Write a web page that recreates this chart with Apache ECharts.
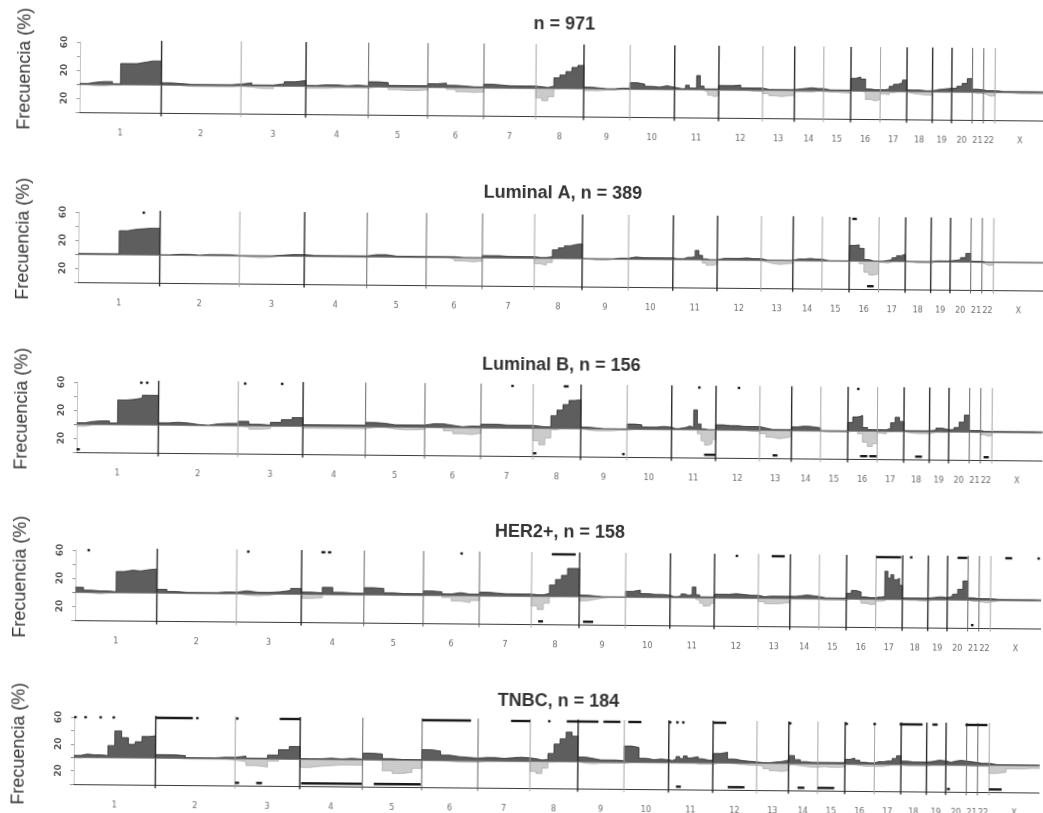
<!DOCTYPE html>
<html><head><meta charset="utf-8">
<script src="https://cdn.jsdelivr.net/npm/echarts@6/dist/echarts.min.js"></script>
<style>
html,body{margin:0;padding:0;background:#fff;overflow:hidden}
#c{width:1043px;height:813px;transform:rotate(0.5deg);transform-origin:50% 50%;background:#fff}
</style></head>
<body><div id="c"></div>
<script>
// ---------------- DATA ----------------
const chromNames = ['1','2','3','4','5','6','7','8','9','10','11','12','13','14','15','16','17','18','19','20','21','22','X'];
const chromLen = [249,243,198,191,181,171,159,146,141,136,135,134,97,89,83,90,81,78,59,63,34,35,155]; // Mb shown
const panelTitles = ['n = 971','Luminal A, n = 389','Luminal B, n = 156','HER2+, n = 158','TNBC, n = 184'];
const yAxisName = 'Frecuencia (%)';
const yTickValues = [60, 20, -20];
const yTickText = {'60':'60','20':'20','-20':'20'};

// gain / loss frequency (%) per chromosome, evenly spaced bins along each chromosome
const gainAll = [[1,3,4,4,1,30,30,32,34,34],[3,2,1,1,1,1,1,2],[4,1,1,3,6,8],[1,2,2,1,2,1],[7,6,2,2,2,2],[5,6,3,2,1,1],[5,4,3,3,3,3],[2,1,3,15,19,24,30,33],[2,1,0,0,1,1],[9,7,4,3,5,3],[2,1,1,6,2,2,20,5,1,1,1,1],[6,6,7,3,3,3],[1,1,1,1,1],[2,3,4,3,3],[1,1,1,1],[18,20,17,3,2,2],[2,3,7,10,12,16],[2,2,1,1],[3,4,5],[5,8,12,19],[4,3],[2,2,2],[1,1,1,1,1,1]];
const lossAll = [[1,2,2,1,1,0,0,0,0,0],[0,1,2,2,2,2,2,1],[2,4,4,1,0,0],[3,3,2,2,2,2],[0,1,4,5,5,4],[0,0,3,6,7,6],[1,1,1,1,1,1],[14,18,12,1,0,0,0,0],[3,3,2,2,1,1],[1,1,1,1,1,1],[0,0,0,0,0,0,0,1,3,8,10,8],[1,1,1,1,2,2],[5,8,9,8,7],[2,2,2,1,1],[2,2,3,3],[0,0,2,12,14,12],[4,5,2,1,1,1],[3,4,5,5],[1,1,1],[1,1,1,1],[2,2],[4,6,5],[1,1,2,2,2,2]];

const gainLumA = [[1,1,1,1,1,34,36,37,38,38],[0,1,1,0,1,1,1,0],[0,0,0,1,2,2],[1,1,1,1,1,1],[3,3,1,1,1,1],[1,1,1,0,0,0],[3,3,2,2,2,2],[1,1,2,12,15,18,20,21],[0,0,0,0,1,1],[3,2,2,2,2,2],[1,1,1,3,3,4,13,6,1,0,0,0],[2,2,2,3,2,2],[0,0,0,0,0],[2,2,3,2,2],[0,0,0,0],[22,23,18,2,0,0],[0,1,2,5,8,10],[0,0,0,0],[1,1,1],[2,3,6,12],[1,1],[0,0,0],[0,0,0,0,0,0]];
const lossLumA = [[0,0,0,0,0,0,0,0,0,0],[0,0,0,1,1,1,1,1],[2,3,2,0,0,0],[1,1,1,1,1,1],[0,0,1,1,1,1],[0,0,2,5,6,5],[0,0,0,0,0,0],[8,10,6,0,0,0,0,0],[1,2,2,1,1,1],[1,1,1,1,1,1],[0,0,0,0,0,0,0,2,5,8,8,6],[1,1,1,1,1,1],[3,5,6,5,4],[1,1,1,1,1],[1,1,1,1],[0,0,4,16,20,18],[2,3,1,0,0,0],[1,2,2,2],[0,0,0],[0,0,0,0],[1,1],[3,5,4],[1,1,1,1,1,1]];

const gainLumB = [[2,4,5,5,2,35,36,38,42,42],[3,4,3,1,0,2,3,3],[6,2,1,5,9,12],[2,2,2,2,2,2],[6,5,3,3,3,3],[5,5,3,1,2,2],[5,5,4,4,4,4],[3,2,2,18,26,34,40,41],[2,1,0,0,0,0],[7,6,3,3,4,3],[1,1,2,3,5,3,28,8,1,0,0,0],[7,6,6,5,5,5],[3,1,1,1,1],[5,6,6,5,4],[0,0,0,0],[12,20,22,5,2,2],[2,2,4,12,20,14],[1,1,1,1],[2,5,3],[3,6,14,24],[2,2],[1,1,1],[1,1,1,1,1,1]];
const lossLumB = [[3,1,0,0,0,0,0,0,0,0],[0,0,1,1,1,1,1,1],[2,5,4,1,0,0],[3,3,3,3,3,3],[1,1,3,4,4,3],[0,1,5,9,10,8],[1,1,1,1,1,1],[18,24,14,2,0,0,0,0],[2,3,3,3,2,2],[1,1,1,1,1,1],[0,0,0,0,0,0,0,6,16,22,20,14],[1,1,1,1,2,2],[5,10,12,11,9],[1,1,1,1,1],[2,2,2,2],[0,0,4,16,22,18],[3,4,1,0,0,0],[2,3,3,3],[1,1,1],[0,0,0,0],[1,1],[4,6,5],[1,1,1,1,1,1]];

const gainHer2 = [[7,3,2,2,1,30,32,31,33,34],[5,2,1,1,1,1,2,2],[4,2,2,3,5,8],[3,2,10,3,2,2],[10,9,3,2,2,2],[6,5,2,4,2,2],[5,4,3,3,3,3],[2,2,4,16,24,30,40,40],[2,1,0,0,0,0],[8,10,5,4,4,3],[1,1,2,5,3,4,15,4,1,1,1,1],[5,5,6,5,4,4],[2,3,3,3,3],[3,4,5,4,3],[1,1,1,1],[8,12,10,3,2,2],[3,3,4,40,30,35,28,30,20],[2,2,2,2],[3,4,3],[5,8,15,27],[3,2],[2,2,2],[1,1,1,1,1,1]];
const lossHer2 = [[0,1,2,1,0,0,0,0,0,0],[0,0,1,1,1,1,1,0],[2,3,2,0,0,0],[6,5,1,1,1,1],[0,0,1,1,1,1],[0,0,3,8,10,7],[1,1,1,1,1,1],[14,19,10,1,0,0,0,0],[6,4,2,1,1,1],[1,1,1,1,1,1],[0,0,0,0,0,0,0,3,8,12,11,8],[1,1,1,1,1,1],[5,8,8,7,6],[1,1,1,1,1],[2,2,2,2],[0,0,2,6,8,7],[3,3,2,0,0,0,0,0,0],[1,1,2,2],[0,0,0],[0,0,0,0],[2,2],[3,4,3],[1,1,1,1,1,1]];

const gainTnbc = [[3,5,4,4,3,18,40,30,20,24,32,33],[5,5,4,1,1,1,2,2],[4,1,1,6,14,19],[1,1,2,1,2,1],[10,9,2,1,1,1],[16,14,8,6,5,4],[5,5,4,5,6,5],[4,2,3,12,26,34,44,38],[7,5,3,3,3,2],[24,22,6,4,5,4],[3,5,9,6,10,7,8,9,6,5,4,4],[14,16,6,4,3,2],[1,1,2,3,5],[12,6,3,2,2],[2,2,2,2],[7,9,6,3,2,2],[4,4,5,5,9,13],[5,4,4,4],[5,7,6],[4,6,7,6],[5,4],[3,3,3],[1,1,1,1,1,1]];
const lossTnbc = [[1,0,0,0,0,0,0,0,0,0,0,0],[0,0,1,1,1,1,1,2],[4,10,12,3,0,0],[12,10,9,8,8,8],[0,1,16,20,18,12],[0,0,1,2,2,2],[1,1,1,1,1,1],[15,18,10,1,0,0,0,0],[2,3,2,2,2,2],[1,1,1,1,1,1],[1,1,1,1,1,1,1,2,2,2,2,2],[0,0,1,2,3,3],[4,8,11,12,10],[2,3,4,5,5],[4,5,5,4],[1,1,2,3,3,3],[3,3,2,1,1,1],[2,2,2,2],[1,1,1],[1,1,1,1],[2,2],[2,2,2],[12,10,5,5,4,4]];

// significance bars: [chromosome, start Mb, end Mb]
const sigGainAll = [];
const sigLossAll = [];
const sigGainLumA = [['1',195,199],['16',8,22]];
const sigLossLumA = [['16',55,75]];
const sigGainLumB = [['1',192,200],['1',210,216],['3',17,21],['3',130,136],['7',92,96],['8',93,108],['11',80,84],['12',66,70],['16',27,31]];
const sigLossLumB = [['1',0,10],['8',1,11],['9',127,131],['11',100,135],['13',40,55],['16',38,60],['16',66,88],['18',35,56],['22',10,26]];
const sigGainHer2 = [['1',36,40],['3',31,35],['4',60,72],['4',80,90],['6',112,116],['8',61,134],['12',64,68],['13',40,80],['17',0,76],['18',22,26],['20',30,60],['X',44,65],['X',142,148]];
const sigLossHer2 = [['8',21,36],['9',12,43],['21',10,14]];
const sigGainTnbc = [['1',0,3],['1',31,35],['1',77,81],['1',117,121],['2',0,113],['2',123,127],['3',2,6],['3',135,198],['6',0,149],['7',100,159],['8',54,58],['8',111,146],['9',0,62],['9',77,129],['10',12,52],['11',0,4],['11',22,26],['11',40,44],['12',0,40],['14',0,8],['16',0,8],['16',86,90],['17',76,81],['18',0,65],['19',17,33],['20',59,63],['21',0,34],['22',0,29]];
const sigLossTnbc = [['3',0,13],['3',65,83],['4',4,189],['5',35,178],['11',23,38],['12',46,97],['14',28,49],['15',0,51],['20',4,13],['X',0,39]];

// ---------------- BUILD ----------------
const panels = [
  {gain:gainAll,  loss:lossAll,  sg:sigGainAll,  sl:sigLossAll},
  {gain:gainLumA, loss:lossLumA, sg:sigGainLumA, sl:sigLossLumA},
  {gain:gainLumB, loss:lossLumB, sg:sigGainLumB, sl:sigLossLumB},
  {gain:gainHer2, loss:lossHer2, sg:sigGainHer2, sl:sigLossHer2},
  {gain:gainTnbc, loss:lossTnbc, sg:sigGainTnbc, sl:sigLossTnbc}
];
const offsets = []; let acc = 0;
chromLen.forEach(l => { offsets.push(acc); acc += l; });
const genomeEnd = acc;
const centers = chromLen.map((l, i) => offsets[i] + l / 2);
const bounds = offsets.slice(1, 23).map((b, i) => [b, i + 1]);

function profile(bins, sign) {
  const pts = [];
  bins.forEach((vals, c) => {
    const w = chromLen[c] / vals.length;
    vals.forEach((v, i) => {
      const x0 = offsets[c] + i * w;
      pts.push([x0, sign * v], [x0 + w, sign * v]);
    });
  });
  return pts;
}
function sigBars(list, kind) {
  return list.map(([n, s, e]) => { const o = offsets[chromNames.indexOf(n)]; return [o + s, o + e, kind]; });
}

const tops = [46, 216, 386, 554, 721];
const titleCenters = [25, 194, 366, 533, 702];
const PH = 70;
const XMIN = -9;
const darkSep = [1,3,8,10,11,13,15,17,18,19];
const midSep = [4,5,6,20,21];
const FONT = 'Liberation Sans, Arial, sans-serif';

const grid = [], xAxis = [], yAxis = [], series = [], title = [], graphic = [];
panels.forEach((p, k) => {
  grid.push({left: 74, top: tops[k], width: 972, height: PH});
  title.push({text: panelTitles[k], left: 561, top: titleCenters[k] - 10, textAlign: 'center', padding: 0,
    textStyle: {fontSize: 18, fontWeight: 'bold', color: '#333', fontFamily: FONT}});
  graphic.push({type: 'text', x: 22, y: tops[k] + 27, rotation: Math.PI / 2, silent: true,
    style: {text: yAxisName, fontSize: 18, fill: '#333', align: 'center', verticalAlign: 'middle', textAlign: 'center', textVerticalAlign: 'middle',
      fontFamily: FONT}});
  xAxis.push({gridIndex: k, type: 'value', min: XMIN, max: genomeEnd,
    axisLine: {onZero: false, lineStyle: {color: '#3a3a3a', width: 1.2}},
    axisTick: {show: false}, splitLine: {show: false},
    axisLabel: {customValues: centers, margin: 17, fontSize: 8, color: '#6a6a6a', fontFamily: 'DejaVu Sans, sans-serif',
      formatter: v => { const i = centers.findIndex(c => Math.abs(c - v) < 0.01); return i >= 0 ? chromNames[i] : ''; }}});
  yAxis.push({gridIndex: k, type: 'value', min: -40, max: 60, interval: 20,
    axisLine: {show: true, lineStyle: {color: '#c4c4c4', width: 1}},
    axisTick: {show: true, length: 3, lineStyle: {color: '#999'}},
    splitLine: {show: false}, axisLabel: {show: false}});
  series.push({type: 'line', xAxisIndex: k, yAxisIndex: k, data: profile(p.loss, -1), symbol: 'none', silent: true, animation: false, z: 2,
    lineStyle: {color: '#acacac', width: 0.8}, areaStyle: {color: '#cbcbcb', opacity: 1}});
  series.push({type: 'line', xAxisIndex: k, yAxisIndex: k, data: profile(p.gain, 1), symbol: 'none', silent: true, animation: false, z: 3,
    lineStyle: {color: '#2e2e2e', width: 0.8}, areaStyle: {color: '#5e5e5e', opacity: 1},
    markLine: {silent: true, symbol: 'none', animation: false, label: {show: false}, lineStyle: {color: '#777', width: 0.8, type: 'solid'}, data: [{yAxis: 0}]}});
  // chromosome separators
  series.push({type: 'custom', xAxisIndex: k, yAxisIndex: k, data: bounds, clip: false, silent: true, animation: false, z: 4,
    renderItem: (params, api) => {
      const idx = api.value(1);
      const x = api.coord([api.value(0), 0])[0];
      const y1 = api.coord([0, 63])[1], y2 = api.coord([0, -45])[1];
      const dark = darkSep.includes(idx), mid = midSep.includes(idx);
      return {type: 'line', shape: {x1: x, y1: y1, x2: x, y2: y2},
        style: {stroke: dark ? '#2a2a2a' : (mid ? '#666' : '#a5a5a5'), lineWidth: dark ? 1.4 : 1}};
    }});
  // significance bars
  const sig = sigBars(p.sg, 1).concat(sigBars(p.sl, 0));
  series.push({type: 'custom', xAxisIndex: k, yAxisIndex: k, data: sig, clip: false, silent: true, animation: false, z: 5,
    renderItem: (params, api) => {
      const a = api.coord([api.value(0), 0])[0], b = api.coord([api.value(1), 0])[0];
      const y = api.coord([0, api.value(2) === 1 ? 60 : -36])[1];
      const w = Math.max(b - a, 2.5);
      return {type: 'rect', shape: {x: a, y: y - 1.2, width: w, height: 2.4}, style: {fill: '#1a1a1a'}};
    }});
});

const chart = echarts.init(document.getElementById('c'), null, {renderer: 'canvas'});
chart.setOption({animation: false, backgroundColor: '#fff', title, grid, xAxis, yAxis, series, graphic});

// rotated y-axis tick labels, placed through each panel's own scales
const tickGraphics = [];
panels.forEach((p, k) => {
  yTickValues.forEach(v => {
    const pt = chart.convertToPixel({gridIndex: k}, [XMIN, v]);
    tickGraphics.push({type: 'text', x: pt[0] - 12, y: pt[1], rotation: Math.PI / 2, silent: true,
      style: {text: yTickText[String(v)], fontSize: 9, fontWeight: 'bold', fill: '#555', align: 'center', verticalAlign: 'middle',
        textAlign: 'center', textVerticalAlign: 'middle', fontFamily: 'DejaVu Sans, sans-serif'}});
  });
});
chart.setOption({graphic: graphic.concat(tickGraphics)});
</script></body></html>
